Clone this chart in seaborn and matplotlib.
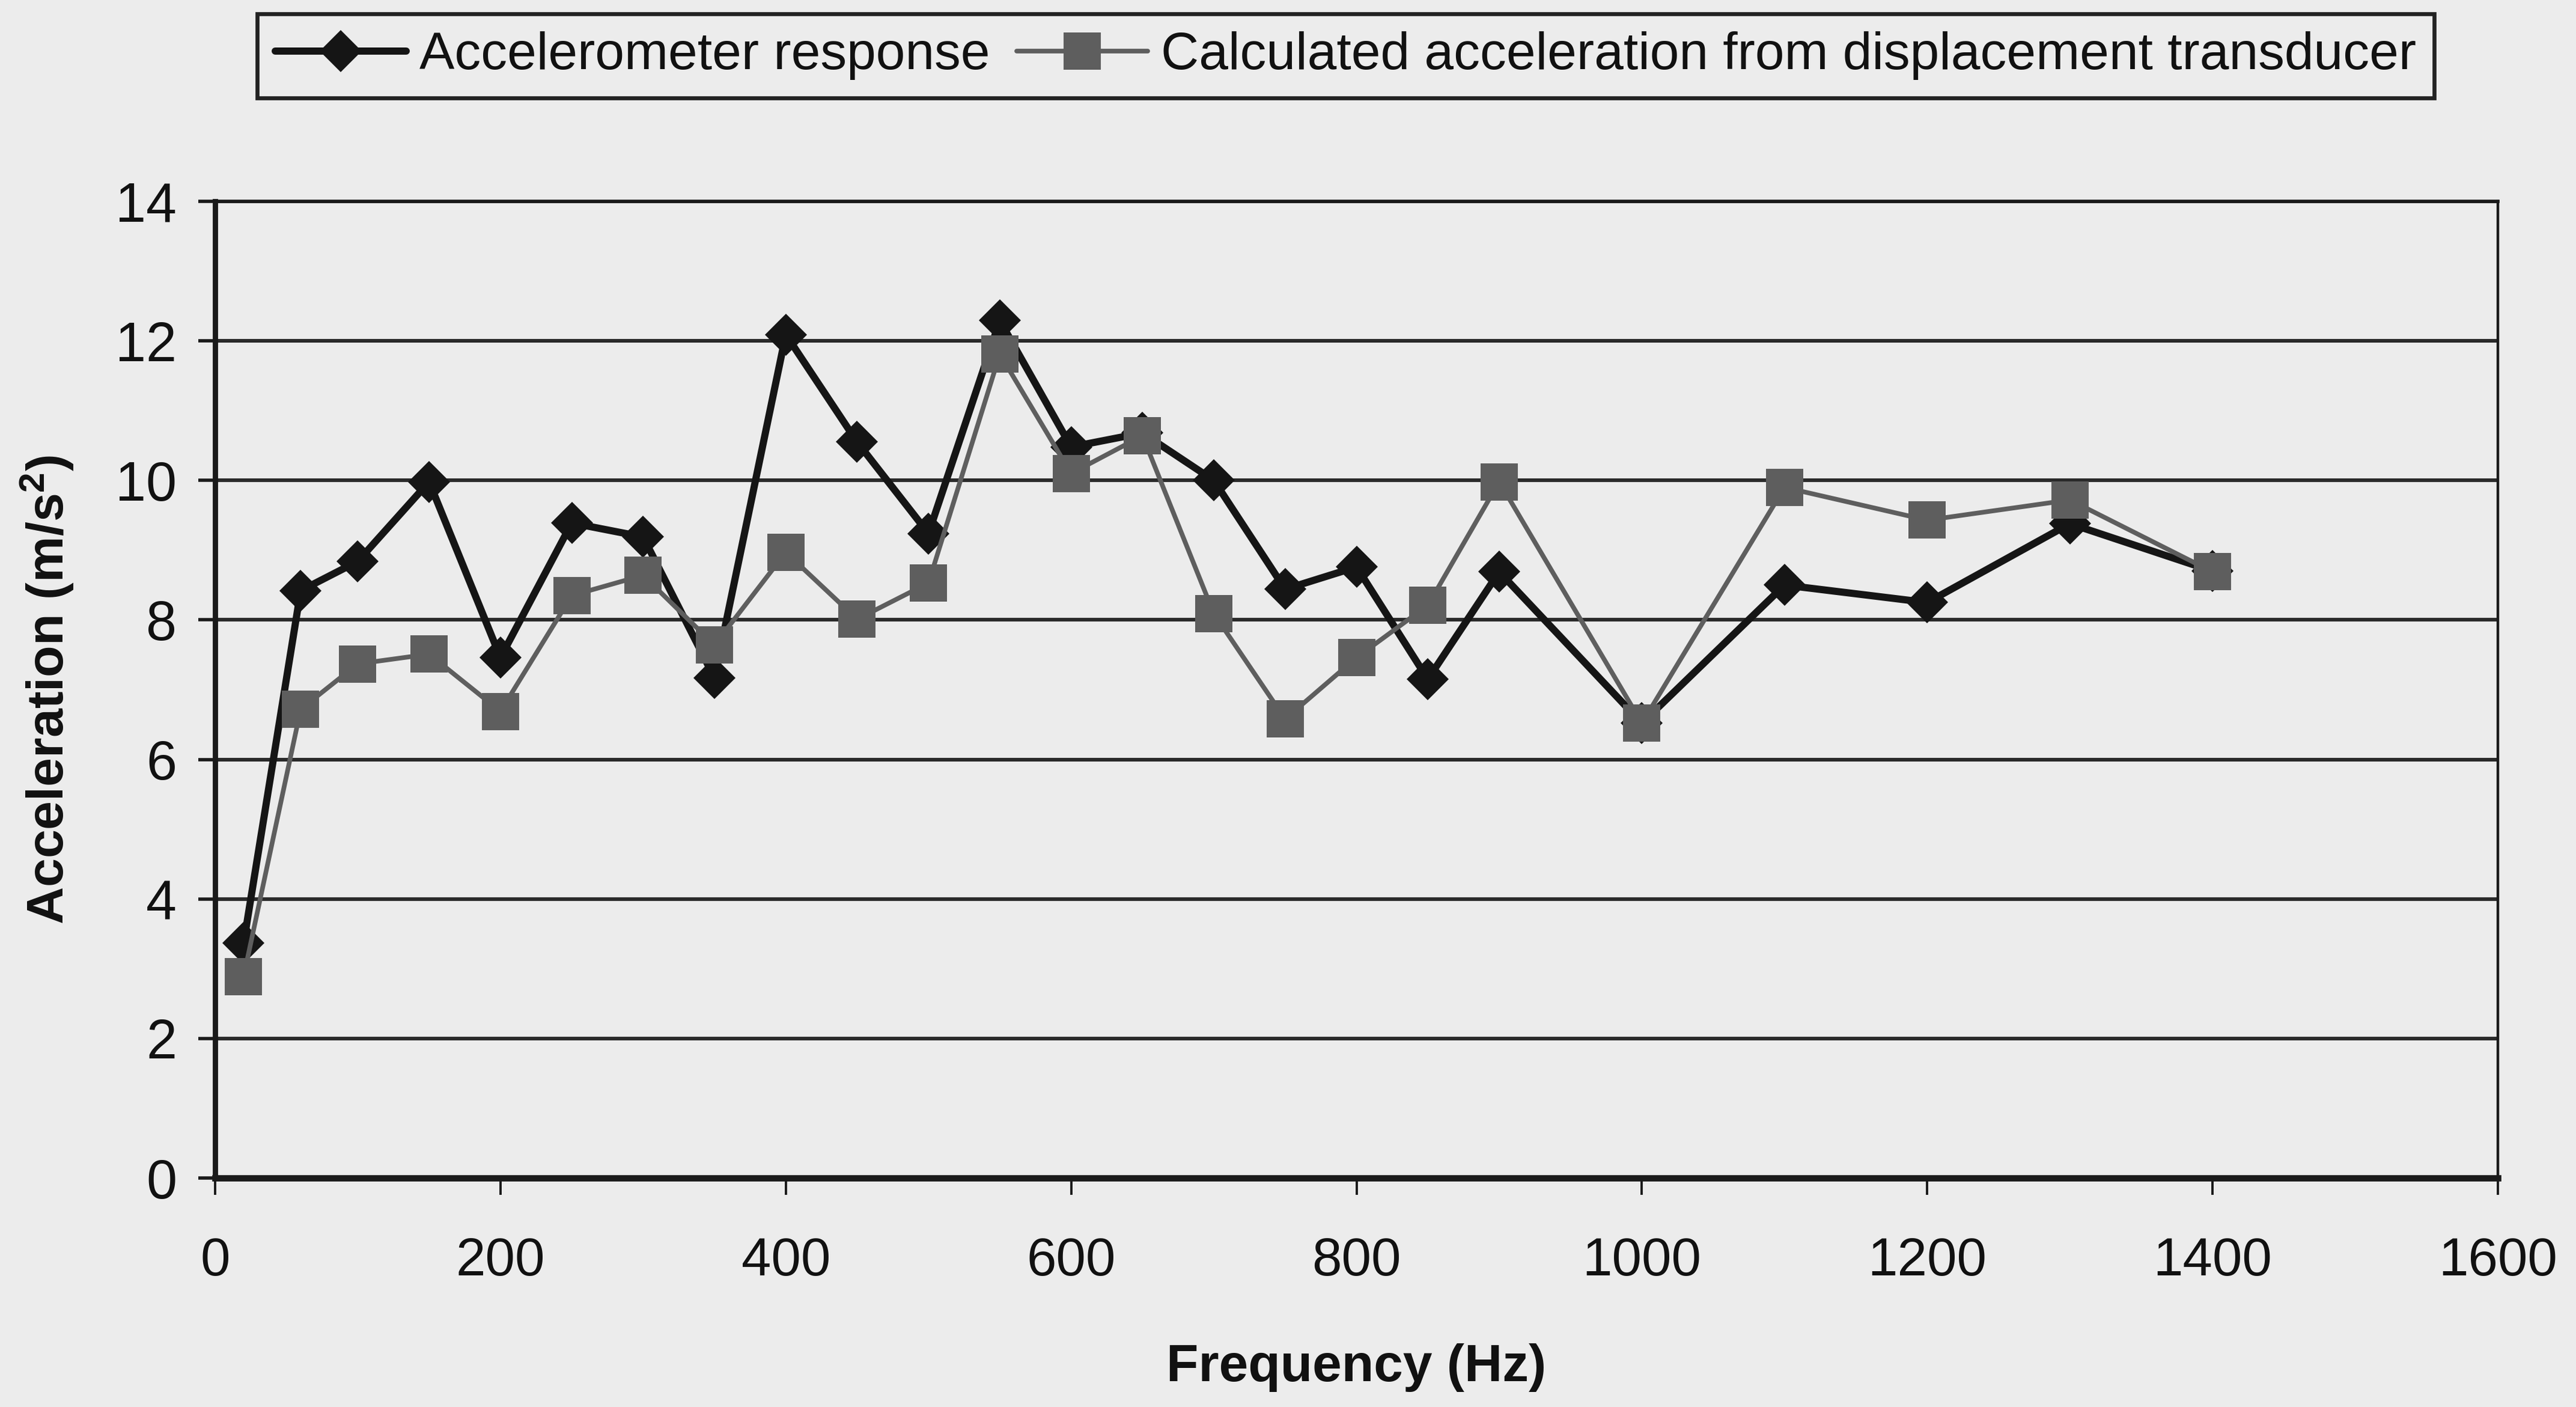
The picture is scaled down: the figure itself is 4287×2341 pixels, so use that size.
import matplotlib
matplotlib.use("Agg")
import matplotlib.pyplot as plt
import seaborn as sns
import pandas as pd
from matplotlib.lines import Line2D

# ---- data ----
freq = [20, 60, 100, 150, 200, 250, 300, 350, 400, 450, 500, 550,
        600, 650, 700, 750, 800, 850, 900, 1000, 1100, 1200, 1300, 1400]
accelerometer = [3.37, 8.42, 8.84, 9.98, 7.46, 9.39, 9.19, 7.17, 12.09, 10.55, 9.24, 12.29,
                 10.48, 10.68, 10.00, 8.44, 8.76, 7.15, 8.69, 6.52, 8.50, 8.25, 9.38, 8.70]
calculated = [2.89, 6.72, 7.37, 7.51, 6.69, 8.35, 8.64, 7.64, 8.97, 8.01, 8.53, 11.81,
              10.10, 10.64, 8.09, 6.58, 7.46, 8.21, 9.98, 6.52, 9.90, 9.43, 9.72, 8.69]
series_names = ["Accelerometer response",
                "Calculated acceleration from displacement transducer"]
x_ticks = [0, 200, 400, 600, 800, 1000, 1200, 1400, 1600]
y_ticks = [0, 2, 4, 6, 8, 10, 12, 14]
x_label = "Frequency (Hz)"
y_label = "Acceleration (m/s$^2$)"

bg = "#ececec"
black = "#151515"
gray = "#5e5e5e"

sns.set_theme(style="white")
plt.rcParams["font.family"] = ["Liberation Sans", "DejaVu Sans"]
plt.rcParams["mathtext.fontset"] = "custom"
plt.rcParams["mathtext.rm"] = "Liberation Sans:bold"
plt.rcParams["mathtext.it"] = "Liberation Sans:bold"
plt.rcParams["mathtext.bf"] = "Liberation Sans:bold"

df_a = pd.DataFrame({"freq": freq, "acc": accelerometer})
df_c = pd.DataFrame({"freq": freq, "acc": calculated})

fig = plt.figure(figsize=(4287 / 200, 2341 / 200), dpi=200, facecolor=bg)
ax = fig.add_axes([0.0835, 0.1627, 0.8862, 0.6942])
ax.set_facecolor(bg)

sns.lineplot(data=df_a, x="freq", y="acc", ax=ax, color=black, linewidth=4.3,
             marker="D", markersize=18, markerfacecolor=black, markeredgecolor=black,
             markeredgewidth=0, zorder=3)
sns.lineplot(data=df_c, x="freq", y="acc", ax=ax, color=gray, linewidth=2.8,
             marker="s", markersize=22, markerfacecolor=gray, markeredgecolor=gray,
             markeredgewidth=0, zorder=4)

ax.set_xlim(0, 1600)
ax.set_ylim(0, 14)
ax.set_xticks(x_ticks)
ax.set_yticks(y_ticks)
ax.set_xticklabels([str(v) for v in x_ticks])
ax.set_yticklabels([str(v) for v in y_ticks])

ax.yaxis.grid(True, color="#2a2a2a", linewidth=2.2)
ax.xaxis.grid(False)
ax.set_axisbelow(True)

for side in ["left", "bottom", "right", "top"]:
    ax.spines[side].set_visible(True)
    ax.spines[side].set_color("#1a1a1a")
ax.spines["left"].set_linewidth(3.2)
ax.spines["bottom"].set_linewidth(3.8)
ax.spines["right"].set_linewidth(1.6)
ax.spines["top"].set_linewidth(2.0)

ax.tick_params(axis="x", which="major", direction="out", length=10, width=1.4,
               color="#1a1a1a", labelsize=32, pad=25, labelcolor="#111111", bottom=True)
ax.tick_params(axis="y", which="major", direction="out", length=10, width=2.0,
               color="#1a1a1a", labelsize=33, pad=13, labelcolor="#111111", left=True)

ax.set_xlabel(x_label, fontsize=31.5, fontweight="bold", color="#111111")
ax.set_ylabel(y_label, fontsize=31, fontweight="bold", color="#111111")
ax.xaxis.set_label_coords(0.5, -0.194)
ax.yaxis.set_label_coords(-0.0735, 0.5)
ax.xaxis.label.set_va("center")
ax.yaxis.label.set_va("center")

handles = [
    Line2D([], [], color=black, linewidth=4.3, marker="D", markersize=18,
           markerfacecolor=black, markeredgewidth=0),
    Line2D([], [], color=gray, linewidth=2.8, marker="s", markersize=22,
           markerfacecolor=gray, markeredgewidth=0),
]
leg = fig.legend(handles, series_names, loc="center", bbox_to_anchor=(0.5224, 0.9603),
                 ncol=2, frameon=True, fancybox=False, edgecolor="#222222",
                 facecolor=bg, framealpha=1, fontsize=31.5, handlelength=2.5,
                 columnspacing=0.5, handletextpad=0.25, borderpad=0.34,
                 borderaxespad=0)
leg.get_frame().set_linewidth(2.4)
for t in leg.get_texts():
    t.set_color("#111111")

fig.savefig("out.png", dpi=200, facecolor=bg)
